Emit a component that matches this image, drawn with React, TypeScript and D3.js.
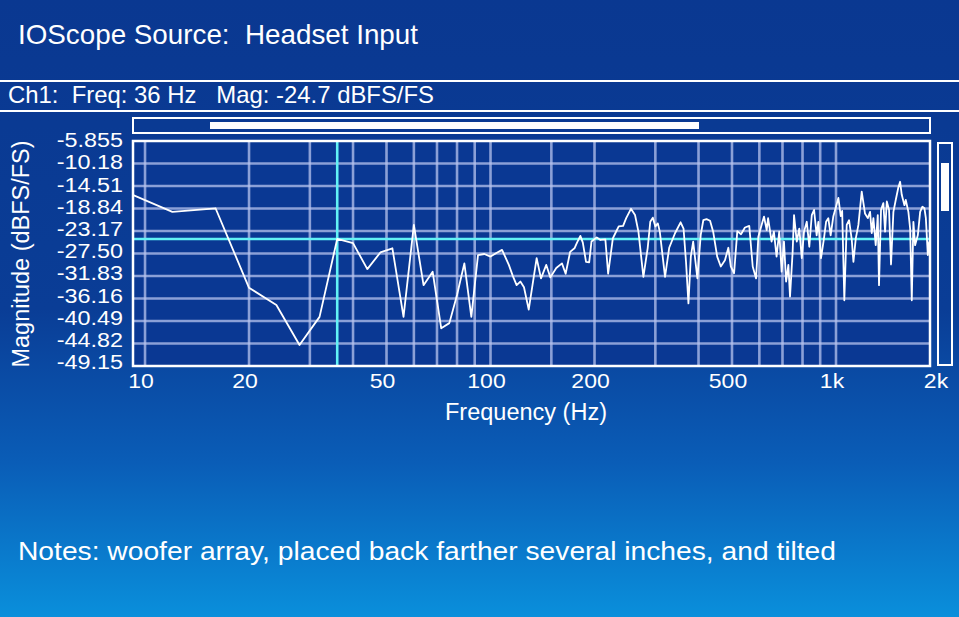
import { useRef, useEffect } from 'react';
import * as d3 from 'd3';

// trace (Hz / dBFS)
const freqHz = [
    8, 12, 16, 20, 24, 28, 32, 36, 40, 44, 48, 52, 56, 60, 64, 68, 72, 76, 80, 84, 88,
    92, 96, 100, 104, 108, 113, 116, 119, 122, 125, 129, 136, 140, 145, 149, 155, 161,
    165, 170, 175, 178, 182, 185, 189, 193, 196, 203, 208, 215, 219, 226, 229, 235, 242,
    247, 255, 262, 268, 277, 285, 290, 295, 300, 305, 309, 320, 329, 342, 355, 362, 368,
    374, 380, 386, 397, 406, 413, 422, 432, 441, 453, 464, 477, 488, 496, 507, 518, 531,
    545, 561, 574, 587, 596, 609, 619, 630, 636, 651, 661, 673, 685, 696, 707, 717, 728,
    736, 749, 756, 770, 783, 796, 808, 823, 837, 851, 864, 879, 889, 905, 923, 936, 950,
    965, 982, 1000, 1016, 1032, 1042, 1057, 1074, 1091, 1111, 1123, 1141, 1161, 1187,
    1213, 1236, 1255, 1269, 1283, 1303, 1321, 1332, 1350, 1371, 1387, 1403, 1424, 1443,
    1466, 1489, 1515, 1533, 1550, 1578, 1592, 1620, 1639, 1657, 1675, 1694, 1725, 1752,
    1779, 1803, 1820, 1844, 1860
];
const magDbfs = [
    -14.5, -19.5, -18.8, -34.1, -37.4, -45.1, -39.7, -24.7, -25.5, -30.5, -27.3, -26.5, -39.7, -22.0, -33.6, -31.0, -41.9, -40.9, -35.5, -29.4, -39.7,
    -27.8, -27.6, -28.1, -27.4, -26.8, -29.7, -31.8, -33.6, -32.9, -34.0, -38.3, -28.4, -32.3, -29.7, -32.1, -30.3, -29.4,
    -31.4, -27.2, -26.5, -25.4, -24.1, -25.4, -29.1, -29.2, -25.2, -24.4, -24.9, -24.8, -31.4, -24.6, -23.8, -22.3, -22.2,
    -20.7, -18.9, -20.1, -23.3, -32.0, -26.5, -21.4, -20.6, -22.3, -21.7, -23.3, -32.0, -26.4, -23.6, -21.5, -22.7, -29.1,
    -37.1, -28.1, -25.2, -32.3, -23.9, -21.1, -20.9, -21.2, -23.3, -28.1, -30.0, -28.8, -26.4, -30.0, -31.3, -23.2, -23.8,
    -22.5, -22.2, -30.0, -32.3, -24.3, -22.0, -20.4, -23.0, -20.7, -25.2, -23.3, -28.1, -23.3, -31.0, -25.2, -32.9, -29.7,
    -35.8, -27.2, -20.1, -25.2, -22.7, -28.4, -23.3, -21.4, -26.2, -20.1, -19.1, -24.0, -21.4, -28.4, -24.6, -21.4, -20.7,
    -24.0, -20.4, -18.5, -16.8, -20.3, -19.3, -36.5, -22.0, -21.1, -24.9, -29.1, -24.6, -22.0, -15.6,
    -19.8, -20.7, -19.5, -23.6, -20.7, -25.9, -20.1, -33.6, -19.1, -17.8, -23.3, -17.5, -19.1, -29.6,
    -19.5, -17.2, -14.8, -13.7, -16.2, -18.2, -17.2, -19.5, -22.7, -36.5, -21.4, -25.9, -24.0, -19.5,
    -18.5, -18.8, -20.7, -27.8, -25.2
];

const yTickValues = [-5.855, -10.18, -14.51, -18.84, -23.17, -27.50, -31.83, -36.16, -40.49, -44.82, -49.15];
const yTickLabels = ['-5.855', '-10.18', '-14.51', '-18.84', '-23.17', '-27.50', '-31.83', '-36.16', '-40.49', '-44.82', '-49.15'];
const xGridHz = [10, 20, 30, 40, 50, 60, 70, 80, 90, 100, 150, 200, 300, 400, 500, 600, 700, 800, 900, 1000];
const xTickHz = [10, 20, 50, 100, 200, 500, 1000, 2000];
const xTickLabels = ['10', '20', '50', '100', '200', '500', '1k', '2k'];

const cursorHz = 36;
const cursorMag = -24.7;

const titleText = 'IOScope Source:  Headset Input';
const readoutText = 'Ch1:  Freq: 36 Hz   Mag: -24.7 dBFS/FS';
const notesText = 'Notes: woofer array, placed back farther several inches, and tilted';

const W = 959;
const H = 617;
const FONT = "'Liberation Sans', Arial, Helvetica, sans-serif";

const App = () => {
    const svgRef = useRef<SVGSVGElement | null>(null);

    useEffect(() => {
        const svgElement = svgRef.current;
        if (!svgElement) return;
        const svg = d3.select(svgElement);
        svg.selectAll('*').remove();

        const plot = { left: 133, right: 930, top: 141, bottom: 366 };

        const defs = svg.append('defs');
        const grad = defs.append('linearGradient')
            .attr('id', 'bg')
            .attr('x1', 0).attr('y1', 0).attr('x2', 0).attr('y2', 1);
        grad.append('stop').attr('offset', '0%').attr('stop-color', '#0a3891');
        grad.append('stop').attr('offset', '50%').attr('stop-color', '#0a3d96');
        grad.append('stop').attr('offset', '75%').attr('stop-color', '#0a5db7');
        grad.append('stop').attr('offset', '100%').attr('stop-color', '#0a8fdb');

        defs.append('clipPath').attr('id', 'plotClip')
            .append('rect')
            .attr('x', plot.left).attr('y', plot.top)
            .attr('width', plot.right - plot.left).attr('height', plot.bottom - plot.top);

        svg.append('rect').attr('width', W).attr('height', H).attr('fill', 'url(#bg)');

        const x = d3.scaleLog().domain([9.23, 1871]).range([plot.left, plot.right]);
        const y = d3.scaleLinear().domain([-5.855, -49.15]).range([plot.top, plot.bottom]);
        // tick labels sit a little tighter than the grid
        const yLabel = d3.scaleLinear().domain([-5.855, -49.15]).range([plot.top - 1, plot.bottom - 4]);

        const addText = (tx: number, ty: number, text: string, size: number, anchor: string, sx: number, len?: number) => {
            const g = svg.append('g').attr('transform', `translate(${tx},${ty}) scale(${sx},1)`);
            const t = g.append('text')
                .attr('x', 0).attr('y', 0)
                .attr('text-anchor', anchor)
                .style('font-family', FONT)
                .style('font-size', `${size}px`)
                .style('white-space', 'pre')
                .attr('fill', '#ffffff')
                .text(text);
            if (len) t.attr('textLength', len).attr('lengthAdjust', 'spacingAndGlyphs');
            return t;
        };

        // header
        addText(18, 44, titleText, 28, 'start', 1, 400);
        svg.append('line').attr('x1', 0).attr('x2', W).attr('y1', 81).attr('y2', 81)
            .attr('stroke', '#fff').attr('stroke-width', 2);
        addText(8, 103, readoutText, 24, 'start', 1, 426);
        svg.append('line').attr('x1', 0).attr('x2', W).attr('y1', 111).attr('y2', 111)
            .attr('stroke', '#fff').attr('stroke-width', 2);

        // horizontal scroller
        svg.append('rect').attr('x', plot.left).attr('y', 118).attr('width', plot.right - plot.left).attr('height', 15)
            .attr('fill', 'none').attr('stroke', '#fff').attr('stroke-width', 2);
        svg.append('rect').attr('x', 210).attr('y', 122).attr('width', 489).attr('height', 7).attr('fill', '#fff');

        // vertical scroller
        svg.append('rect').attr('x', 938).attr('y', 143).attr('width', 14).attr('height', 222)
            .attr('fill', 'none').attr('stroke', '#fff').attr('stroke-width', 2);
        svg.append('rect').attr('x', 941).attr('y', 163).attr('width', 8).attr('height', 48).attr('fill', '#fff');

        // plot area
        svg.append('rect')
            .attr('x', plot.left).attr('y', plot.top)
            .attr('width', plot.right - plot.left).attr('height', plot.bottom - plot.top)
            .attr('fill', '#0a3893');

        const grid = svg.append('g').attr('clip-path', 'url(#plotClip)');
        grid.selectAll('.hgrid')
            .data(yTickValues.slice(1, -1))
            .join('line')
            .attr('x1', plot.left).attr('x2', plot.right)
            .attr('y1', d => y(d)).attr('y2', d => y(d))
            .attr('stroke', '#b7c3ee').attr('stroke-opacity', 0.75).attr('stroke-width', 2.6);
        grid.selectAll('.vgrid')
            .data(xGridHz)
            .join('line')
            .attr('x1', d => x(d)).attr('x2', d => x(d))
            .attr('y1', plot.top).attr('y2', plot.bottom)
            .attr('stroke', '#b7c3ee').attr('stroke-opacity', 0.75).attr('stroke-width', 2.6);

        // cursor
        grid.append('line')
            .attr('x1', plot.left).attr('x2', plot.right)
            .attr('y1', y(cursorMag)).attr('y2', y(cursorMag))
            .attr('stroke', '#62f2f6').attr('stroke-width', 2.6);
        grid.append('line')
            .attr('x1', x(cursorHz)).attr('x2', x(cursorHz))
            .attr('y1', plot.top).attr('y2', plot.bottom)
            .attr('stroke', '#62f2f6').attr('stroke-width', 2.6);

        const trace = freqHz.map((f, i) => ({ f, m: magDbfs[i] }));
        const line = d3.line<{ f: number, m: number }>()
            .x(d => x(d.f))
            .y(d => y(d.m));
        grid.append('path')
            .datum(trace)
            .attr('fill', 'none')
            .attr('stroke', '#ffffff')
            .attr('stroke-width', 1.8)
            .attr('stroke-linejoin', 'round')
            .attr('d', line);

        svg.append('rect')
            .attr('x', plot.left).attr('y', plot.top)
            .attr('width', plot.right - plot.left).attr('height', plot.bottom - plot.top)
            .attr('fill', 'none').attr('stroke', '#fff').attr('stroke-width', 2.5);

        // y ticks
        yTickValues.forEach((v, i) => {
            addText(123, yLabel(v) + 7.3, yTickLabels[i], 20.5, 'end', 1.14);
        });

        // x ticks
        xTickHz.forEach((v, i) => {
            addText(x(v) - 4, 388, xTickLabels[i], 20, 'middle', 1.15);
        });

        // axis titles
        addText(526, 420, 'Frequency (Hz)', 23, 'middle', 1, 162);
        svg.append('text')
            .attr('transform', 'translate(28.5,254) rotate(-90)')
            .attr('text-anchor', 'middle')
            .attr('textLength', 227).attr('lengthAdjust', 'spacingAndGlyphs')
            .style('font-family', FONT)
            .style('font-size', '23px')
            .attr('fill', '#fff')
            .text('Magnitude (dBFS/FS)');

        addText(18, 560, notesText, 25.5, 'start', 1, 818);
    }, []);

    return (
        <div style={{ position: 'fixed', left: 0, top: 0, width: W, height: H }}>
            <svg ref={svgRef} width={W} height={H} style={{ display: 'block' }}></svg>
        </div>
    );
};

export default App;
